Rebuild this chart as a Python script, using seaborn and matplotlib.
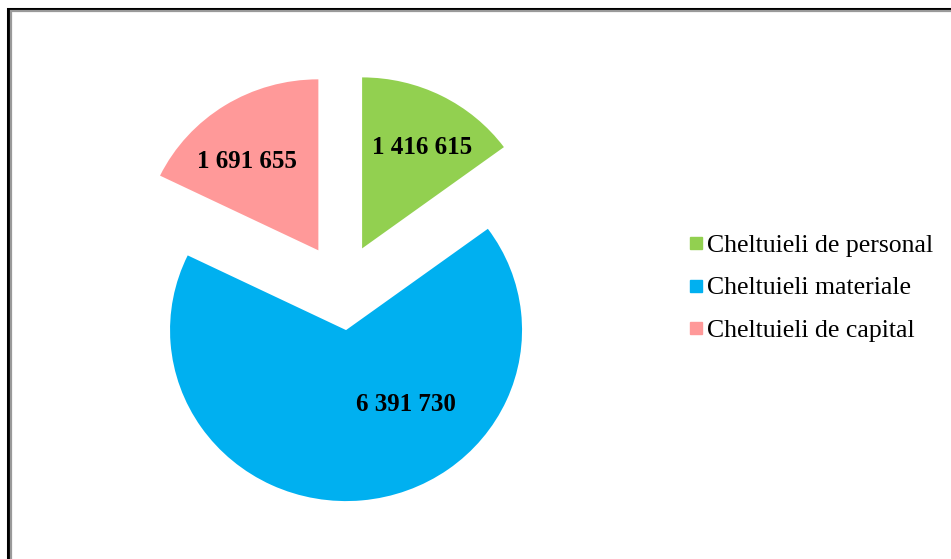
import matplotlib
matplotlib.use("Agg")
import matplotlib.pyplot as plt
import seaborn as sns
import numpy as np
from matplotlib.patches import Rectangle
from matplotlib.lines import Line2D

categories = ["Cheltuieli de personal", "Cheltuieli materiale", "Cheltuieli de capital"]
values = [1416615, 6391730, 1691655]
value_labels = ["1 416 615", "6 391 730", "1 691 655"]
colors = ["#92D050", "#00B0F0", "#FF9999"]

# label placement (angle in degrees, distance as fraction of radius) per slice
label_angle = [60, -52, 128]
label_dist = [0.68, 0.55, 0.66]

sns.set_theme(style="white")
plt.rcParams["font.family"] = ["Liberation Serif", "DejaVu Serif"]
plt.rcParams["text.color"] = "black"

fig = plt.figure(figsize=(9.51, 5.59), dpi=100)
fig.patch.set_facecolor("white")

# figure frame (black outer, gray inner), extending past right/bottom edges
fig.patches.append(Rectangle((7.5 / 951, -0.1), 1.2, (559 - 8.5) / 559 + 0.1,
                             transform=fig.transFigure, fill=False,
                             edgecolor="black", linewidth=2.2, zorder=0))
fig.patches.append(Rectangle((10.5 / 951, -0.1), 1.2, (559 - 11.5) / 559 + 0.1,
                             transform=fig.transFigure, fill=False,
                             edgecolor="#9a9a9a", linewidth=1.6, zorder=0))

# pie is slightly wider than tall in the reference
ax = fig.add_axes([78 / 951, 15.5 / 559, 528 / 951, 513 / 559])
wedges, _ = ax.pie(values, colors=colors, startangle=90, counterclock=False,
                   explode=[0.253] * len(values), radius=1.0,
                   wedgeprops=dict(linewidth=0))
ax.set_xlim(-1.5, 1.5)
ax.set_ylim(-1.5, 1.5)
ax.set_aspect("auto")
ax.axis("off")

for w, lab, ang, d in zip(wedges, value_labels, label_angle, label_dist):
    cx, cy = w.center
    t = np.deg2rad(ang)
    ax.text(cx + d * w.r * np.cos(t), cy + d * w.r * np.sin(t), lab,
            ha="center", va="center", fontsize=18, fontweight="bold", color="black")

handles = [Line2D([0], [0], marker="s", linestyle="none", markersize=9,
                  markerfacecolor=c, markeredgecolor=c) for c in colors]
leg = fig.legend(handles, categories, loc="center left",
                 bbox_to_anchor=(675 / 951, 1 - 288 / 559), frameon=False,
                 fontsize=18.5, handletextpad=0.05, labelspacing=0.75,
                 handlelength=0.8, borderaxespad=0)
for t in leg.get_texts():
    t.set_color("black")

fig.savefig("out.png", dpi=100, facecolor="white")
